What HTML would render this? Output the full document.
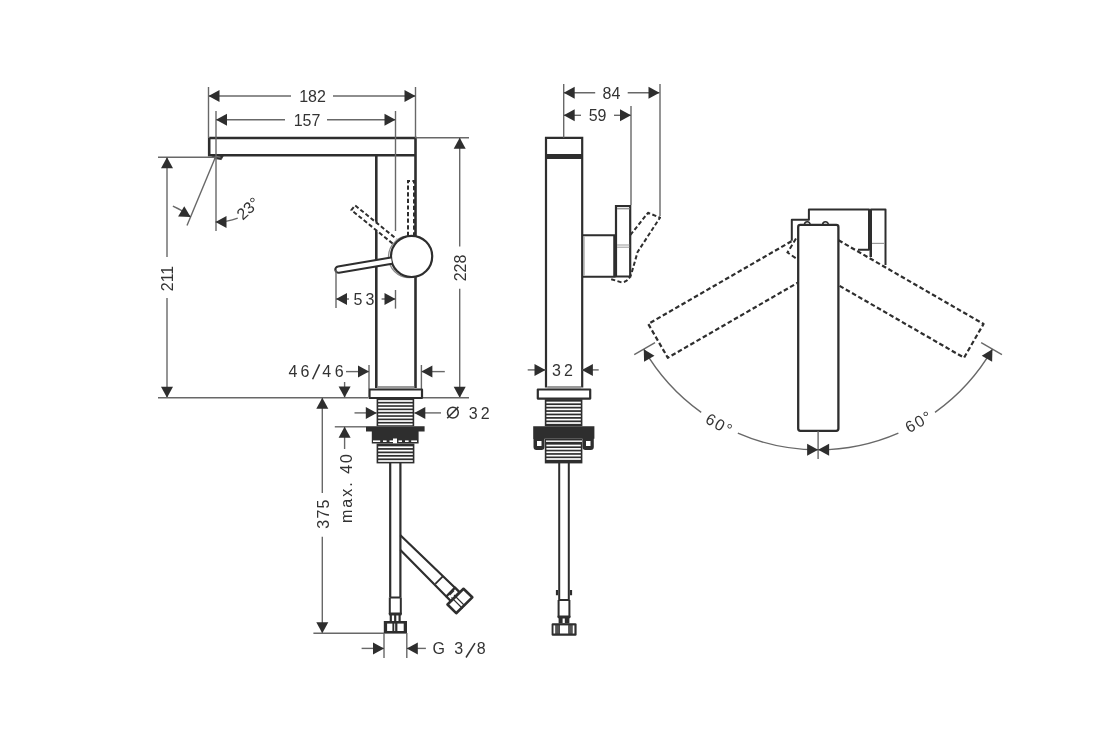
<!DOCTYPE html>
<html><head><meta charset="utf-8"><style>
html,body{margin:0;padding:0;background:#fff;width:1120px;height:750px;overflow:hidden}
svg{display:block;will-change:transform}
text{font-family:"Liberation Sans",sans-serif}
</style></head><body>
<svg width="1120" height="750" viewBox="0 0 1120 750">
<rect width="1120" height="750" fill="#fff"/>
<path d="M209.2,138 H415.5 V388 M209.2,138 V155.3 H415.5 M376.3,155.3 V388" stroke="#2e2e2e" stroke-width="2.6" fill="none" />
<path d="M210.6,155 L223.2,156 L221.3,159.6 L214.7,158.6 Z" stroke="#2e2e2e" stroke-width="0.8" fill="#2e2e2e" />
<path d="M215.5,156.6 L220.5,157.2" stroke="#999" stroke-width="0.9" fill="none" />
<line x1="208.50" y1="87.00" x2="208.50" y2="138.00" stroke="#686868" stroke-width="1.4" />
<line x1="415.50" y1="87.00" x2="415.50" y2="138.00" stroke="#686868" stroke-width="1.4" />
<line x1="216.00" y1="111.00" x2="216.00" y2="231.00" stroke="#686868" stroke-width="1.4" />
<line x1="395.50" y1="111.00" x2="395.50" y2="231.00" stroke="#686868" stroke-width="1.4" />
<line x1="415.50" y1="137.80" x2="469.00" y2="137.80" stroke="#686868" stroke-width="1.4" />
<line x1="158.00" y1="157.20" x2="215.00" y2="157.20" stroke="#686868" stroke-width="1.4" />
<line x1="215.50" y1="157.00" x2="187.00" y2="225.60" stroke="#686868" stroke-width="1.4" />
<line x1="208.50" y1="96.00" x2="291.00" y2="96.00" stroke="#686868" stroke-width="1.4" />
<line x1="333.00" y1="96.00" x2="415.50" y2="96.00" stroke="#686868" stroke-width="1.4" />
<polygon points="208.50,96.00 219.50,90.00 219.50,102.00" fill="#2e2e2e"/>
<polygon points="415.50,96.00 404.50,102.00 404.50,90.00" fill="#2e2e2e"/>
<text x="312.50" y="96.50" font-size="16" text-anchor="middle" dominant-baseline="central" fill="#333333">182</text>
<line x1="216.00" y1="119.70" x2="285.00" y2="119.70" stroke="#686868" stroke-width="1.4" />
<line x1="327.00" y1="119.70" x2="395.50" y2="119.70" stroke="#686868" stroke-width="1.4" />
<polygon points="216.00,119.70 227.00,113.70 227.00,125.70" fill="#2e2e2e"/>
<polygon points="395.50,119.70 384.50,125.70 384.50,113.70" fill="#2e2e2e"/>
<text x="307.00" y="120.00" font-size="16" text-anchor="middle" dominant-baseline="central" fill="#333333">157</text>
<line x1="167.00" y1="157.20" x2="167.00" y2="257.00" stroke="#686868" stroke-width="1.4" />
<line x1="167.00" y1="298.00" x2="167.00" y2="397.70" stroke="#686868" stroke-width="1.4" />
<polygon points="167.00,157.20 173.00,168.20 161.00,168.20" fill="#2e2e2e"/>
<polygon points="167.00,397.70 161.00,386.70 173.00,386.70" fill="#2e2e2e"/>
<text x="167.50" y="278.50" font-size="16" text-anchor="middle" dominant-baseline="central" fill="#333333" transform="rotate(-90 167.50 278.50)">211</text>
<line x1="459.70" y1="137.80" x2="459.70" y2="246.50" stroke="#686868" stroke-width="1.4" />
<line x1="459.70" y1="288.70" x2="459.70" y2="397.70" stroke="#686868" stroke-width="1.4" />
<polygon points="459.70,137.80 465.70,148.80 453.70,148.80" fill="#2e2e2e"/>
<polygon points="459.70,397.70 453.70,386.70 465.70,386.70" fill="#2e2e2e"/>
<text x="460.20" y="268.00" font-size="16" text-anchor="middle" dominant-baseline="central" fill="#333333" transform="rotate(-90 460.20 268.00)">228</text>
<path d="M172.86,206.06 A65,65 0 0 1 190.63,217.05" stroke="#686868" stroke-width="1.4" fill="none"/>
<polygon points="190.63,217.05 178.11,216.56 184.26,206.26" fill="#2e2e2e"/>
<path d="M237.73,218.08 A65,65 0 0 1 215.50,222.00" stroke="#686868" stroke-width="1.4" fill="none"/>
<polygon points="215.50,222.00 226.50,216.00 226.50,228.00" fill="#2e2e2e"/>
<text x="248.00" y="208.50" font-size="16" text-anchor="middle" dominant-baseline="central" fill="#333333" transform="rotate(-42 248.00 208.50)">23°</text>
<circle cx="409.3" cy="256.8" r="20.8" stroke="#8a8a8a" stroke-width="1.3" fill="#fff"/>
<circle cx="411.6" cy="256.4" r="20.6" stroke="#2e2e2e" stroke-width="2.2" fill="#fff"/>
<path d="M392.03,263.71 L339.03,272.71 A3.15,3.15 0 0 1 337.97,266.49 L390.97,257.49 Z" fill="#fff" stroke="none"/>
<path d="M392.03,263.71 L339.03,272.71 A3.15,3.15 0 0 1 337.97,266.49 L390.97,257.49" stroke="#2e2e2e" stroke-width="2.2" fill="none"  stroke-linejoin="round"/>
<path d="M392.61,243.53 L351.31,210.03 L355.09,205.37 L396.39,238.87 Z" fill="#fff" stroke="none"/>
<path d="M392.61,243.53 L351.31,210.03 L355.09,205.37 L396.39,238.87" stroke="#2e2e2e" stroke-width="2.0" fill="none" stroke-dasharray="4.2,2.4" stroke-linejoin="round"/>
<path d="M408,236 V181 H414 V236" stroke="#2e2e2e" stroke-width="2.0" fill="none" stroke-dasharray="4.2,2.4"/>
<line x1="336.00" y1="270.00" x2="336.00" y2="308.00" stroke="#686868" stroke-width="1.4" />
<line x1="395.50" y1="290.00" x2="395.50" y2="308.60" stroke="#686868" stroke-width="1.4" />
<line x1="336.00" y1="299.00" x2="349.00" y2="299.00" stroke="#686868" stroke-width="1.4" />
<line x1="381.60" y1="299.00" x2="395.50" y2="299.00" stroke="#686868" stroke-width="1.4" />
<polygon points="336.00,299.00 347.00,293.00 347.00,305.00" fill="#2e2e2e"/>
<polygon points="395.50,299.00 384.50,305.00 384.50,293.00" fill="#2e2e2e"/>
<text x="365.50" y="299.50" font-size="16" text-anchor="middle" dominant-baseline="central" fill="#333333" letter-spacing="3">53</text>
<line x1="369.00" y1="365.00" x2="369.00" y2="389.00" stroke="#686868" stroke-width="1.4" />
<line x1="421.40" y1="365.00" x2="421.40" y2="389.00" stroke="#686868" stroke-width="1.4" />
<line x1="346.00" y1="371.60" x2="369.00" y2="371.60" stroke="#686868" stroke-width="1.4" />
<line x1="421.40" y1="371.60" x2="444.80" y2="371.60" stroke="#686868" stroke-width="1.4" />
<polygon points="369.00,371.60 358.00,377.60 358.00,365.60" fill="#2e2e2e"/>
<polygon points="421.40,371.60 432.40,365.60 432.40,377.60" fill="#2e2e2e"/>
<text x="293.00" y="371.50" font-size="16" text-anchor="middle" dominant-baseline="central" fill="#333333">4</text>
<text x="305.00" y="371.50" font-size="16" text-anchor="middle" dominant-baseline="central" fill="#333333">6</text>
<text x="326.80" y="371.50" font-size="16" text-anchor="middle" dominant-baseline="central" fill="#333333">4</text>
<text x="339.20" y="371.50" font-size="16" text-anchor="middle" dominant-baseline="central" fill="#333333">6</text>
<line x1="312.60" y1="379.20" x2="319.60" y2="364.40" stroke="#333333" stroke-width="1.5" />
<line x1="158.00" y1="397.70" x2="368.00" y2="397.70" stroke="#686868" stroke-width="1.4" />
<line x1="423.00" y1="397.70" x2="469.00" y2="397.70" stroke="#686868" stroke-width="1.4" />
<line x1="344.60" y1="382.00" x2="344.60" y2="397.70" stroke="#686868" stroke-width="1.4" />
<polygon points="344.60,397.60 338.60,386.60 350.60,386.60" fill="#2e2e2e"/>
<rect x="377.6" y="386" width="36.6" height="2.4" fill="#9a9a9a"/>
<path d="M369.5,389.5 H422 V398 H369.5 Z" stroke="#2e2e2e" stroke-width="2.2" fill="none" stroke-linejoin="round"/>
<rect x="376.6" y="399" width="37.599999999999966" height="27.19999999999999" fill="#2e2e2e"/>
<rect x="378.20000000000005" y="400.15" width="34.39999999999996" height="1.7" fill="#fff"/>
<rect x="378.20000000000005" y="403.49" width="34.39999999999996" height="1.7" fill="#fff"/>
<rect x="378.20000000000005" y="406.83" width="34.39999999999996" height="1.7" fill="#fff"/>
<rect x="378.20000000000005" y="410.17" width="34.39999999999996" height="1.7" fill="#fff"/>
<rect x="378.20000000000005" y="413.51" width="34.39999999999996" height="1.7" fill="#fff"/>
<rect x="378.20000000000005" y="416.85" width="34.39999999999996" height="1.7" fill="#fff"/>
<rect x="378.20000000000005" y="420.19" width="34.39999999999996" height="1.7" fill="#fff"/>
<rect x="378.20000000000005" y="423.53" width="34.39999999999996" height="1.7" fill="#fff"/>
<path d="M366,426.2 H424.6 V431.6 H418.6 V443.6 H371.8 V431.6 H366 Z" stroke="#2e2e2e" stroke-width="0" fill="#2e2e2e" />
<rect x="373" y="440.4" width="7.2" height="1.6" fill="#fff"/>
<rect x="383" y="440.4" width="3.6" height="1.6" fill="#fff"/>
<rect x="389.5" y="440.4" width="4.0" height="1.6" fill="#fff"/>
<rect x="398.5" y="440.4" width="3.5" height="1.6" fill="#fff"/>
<rect x="405" y="440.4" width="3.6" height="1.6" fill="#fff"/>
<rect x="411.2" y="440.4" width="5.8" height="1.6" fill="#fff"/>
<rect x="393" y="438.5" width="4" height="5" fill="#fff"/>
<rect x="376.6" y="443.6" width="37.799999999999955" height="19.799999999999955" fill="#2e2e2e"/>
<rect x="378.20000000000005" y="446.35" width="34.59999999999995" height="1.7" fill="#fff"/>
<rect x="378.20000000000005" y="449.80" width="34.59999999999995" height="1.7" fill="#fff"/>
<rect x="378.20000000000005" y="453.25" width="34.59999999999995" height="1.7" fill="#fff"/>
<rect x="378.20000000000005" y="456.70" width="34.59999999999995" height="1.7" fill="#fff"/>
<rect x="378.20000000000005" y="460.15" width="34.59999999999995" height="1.7" fill="#fff"/>
<line x1="334.80" y1="426.80" x2="366.00" y2="426.80" stroke="#686868" stroke-width="1.4" />
<line x1="344.60" y1="426.80" x2="344.60" y2="449.00" stroke="#686868" stroke-width="1.4" />
<polygon points="344.60,426.80 350.60,437.80 338.60,437.80" fill="#2e2e2e"/>
<text x="346.00" y="487.50" font-size="16" text-anchor="middle" dominant-baseline="central" fill="#333333" letter-spacing="2" transform="rotate(-90 346.00 487.50)">max. 40</text>
<line x1="322.30" y1="397.70" x2="322.30" y2="493.00" stroke="#686868" stroke-width="1.4" />
<line x1="322.30" y1="536.80" x2="322.30" y2="633.20" stroke="#686868" stroke-width="1.4" />
<polygon points="322.30,397.70 328.30,408.70 316.30,408.70" fill="#2e2e2e"/>
<polygon points="322.30,633.20 316.30,622.20 328.30,622.20" fill="#2e2e2e"/>
<text x="323.30" y="513.50" font-size="16" text-anchor="middle" dominant-baseline="central" fill="#333333" letter-spacing="1.2" transform="rotate(-90 323.30 513.50)">375</text>
<line x1="313.40" y1="633.20" x2="384.00" y2="633.20" stroke="#686868" stroke-width="1.4" />
<line x1="354.50" y1="412.90" x2="376.80" y2="412.90" stroke="#686868" stroke-width="1.4" />
<line x1="414.30" y1="412.90" x2="441.00" y2="412.90" stroke="#686868" stroke-width="1.4" />
<polygon points="376.80,412.90 365.80,418.90 365.80,406.90" fill="#2e2e2e"/>
<polygon points="414.30,412.90 425.30,406.90 425.30,418.90" fill="#2e2e2e"/>
<circle cx="452.9" cy="412.6" r="5.4" stroke="#333333" stroke-width="1.5" fill="none"/>
<line x1="447.20" y1="418.30" x2="458.40" y2="406.90" stroke="#333333" stroke-width="1.5" />
<text x="468.80" y="413.20" font-size="16" text-anchor="start" dominant-baseline="central" fill="#333333" letter-spacing="3">32</text>
<path d="M390.2,463 V597.5 M400.4,463 V597.5" stroke="#2e2e2e" stroke-width="2.2" fill="none" />
<path d="M400.4,535.3 L455,587.7 M400.4,550 L446.3,596.5" stroke="#2e2e2e" stroke-width="2.2" fill="none" />
<path d="M390.2,597.5 H400.4 M389.8,597.5 V614 M400.8,597.5 V614" stroke="#2e2e2e" stroke-width="2.0" fill="none" />
<rect x="388.8" y="612.6" width="13" height="2.8" rx="1" fill="#2e2e2e"/>
<rect x="389.7" y="614.5" width="11" height="7" fill="#2e2e2e"/>
<rect x="391.9" y="615.5" width="2.2" height="5.5" fill="#fff"/><rect x="396.3" y="615.5" width="2.2" height="5.5" fill="#fff"/>
<rect x="383.8" y="621" width="23.2" height="12.6" fill="#2e2e2e"/>
<rect x="387.1" y="623.6" width="5.3" height="7.4" fill="#fff"/><rect x="397.4" y="623.6" width="6.3" height="7.4" fill="#fff"/><rect x="394.1" y="623.6" width="1.1" height="7.4" fill="#ddd"/>
<path d="M435.3,583.8 L442.8,576.3" stroke="#2e2e2e" stroke-width="1.8" fill="none" />
<path d="M447.5,604.5 L463.5,588.8 L472.3,597.3 L456.2,613.2 Z" stroke="#2e2e2e" stroke-width="2.6" fill="none" stroke-linejoin="round"/>
<path d="M446.3,596.5 L455,587.7 L459.5,592.2 L450.8,601 Z" stroke="#2e2e2e" stroke-width="2.4" fill="#fff" stroke-linejoin="round"/>
<path d="M449.5,595 L454,590.5" stroke="#2e2e2e" stroke-width="1.4" fill="none" />
<path d="M451.5,597.5 L462.5,608.5 M454,595 L465,606" stroke="#2e2e2e" stroke-width="1.1" fill="none" />
<line x1="384.00" y1="633.00" x2="384.00" y2="658.00" stroke="#686868" stroke-width="1.4" />
<line x1="406.80" y1="633.00" x2="406.80" y2="658.00" stroke="#686868" stroke-width="1.4" />
<line x1="361.60" y1="648.40" x2="384.00" y2="648.40" stroke="#686868" stroke-width="1.4" />
<line x1="406.80" y1="648.40" x2="425.90" y2="648.40" stroke="#686868" stroke-width="1.4" />
<polygon points="384.00,648.40 373.00,654.40 373.00,642.40" fill="#2e2e2e"/>
<polygon points="406.80,648.40 417.80,642.40 417.80,654.40" fill="#2e2e2e"/>
<text x="438.80" y="648.80" font-size="16" text-anchor="middle" dominant-baseline="central" fill="#333333">G</text>
<text x="458.80" y="648.80" font-size="16" text-anchor="middle" dominant-baseline="central" fill="#333333">3</text>
<text x="481.30" y="648.80" font-size="16" text-anchor="middle" dominant-baseline="central" fill="#333333">8</text>
<line x1="466.00" y1="657.50" x2="475.00" y2="643.10" stroke="#333333" stroke-width="1.5" />
<path d="M546,387.6 V137.8 H582.2 V387.6" stroke="#2e2e2e" stroke-width="2.2" fill="none" />
<rect x="546" y="154" width="36.2" height="5" fill="#2e2e2e"/>
<path d="M582.2,235.2 H614.4 V276.8 H582.2" stroke="#2e2e2e" stroke-width="2.0" fill="none" />
<path d="M616,206 H630.2 V276.5 H616 Z" stroke="#2e2e2e" stroke-width="2.2" fill="none" />
<rect x="613.6" y="235.2" width="3.4" height="41.3" fill="#2e2e2e"/>
<line x1="617.00" y1="208.60" x2="629.50" y2="208.60" stroke="#999" stroke-width="1.6" />
<line x1="617.00" y1="245.00" x2="629.50" y2="245.00" stroke="#999" stroke-width="1" />
<line x1="617.00" y1="247.20" x2="629.50" y2="247.20" stroke="#999" stroke-width="1" />
<line x1="584.00" y1="236.50" x2="584.00" y2="275.50" stroke="#999" stroke-width="1.2" />
<path d="M630.4,235 L648,212.8 L660,217.6 L637.6,252 L631.2,274.4 Q628,282 621.6,282.4 L611.2,279.2" stroke="#2e2e2e" stroke-width="2.0" fill="none" stroke-dasharray="4.2,2.4" stroke-linejoin="round"/>
<line x1="563.70" y1="84.00" x2="563.70" y2="137.80" stroke="#686868" stroke-width="1.4" />
<line x1="631.00" y1="106.00" x2="631.00" y2="205.00" stroke="#686868" stroke-width="1.4" />
<line x1="660.00" y1="84.00" x2="660.00" y2="216.00" stroke="#686868" stroke-width="1.4" />
<line x1="563.70" y1="92.80" x2="595.20" y2="92.80" stroke="#686868" stroke-width="1.4" />
<line x1="627.70" y1="92.80" x2="659.50" y2="92.80" stroke="#686868" stroke-width="1.4" />
<polygon points="563.70,92.80 574.70,86.80 574.70,98.80" fill="#2e2e2e"/>
<polygon points="659.50,92.80 648.50,98.80 648.50,86.80" fill="#2e2e2e"/>
<text x="611.50" y="93.20" font-size="16" text-anchor="middle" dominant-baseline="central" fill="#333333">84</text>
<line x1="563.70" y1="115.30" x2="581.00" y2="115.30" stroke="#686868" stroke-width="1.4" />
<line x1="614.00" y1="115.30" x2="631.00" y2="115.30" stroke="#686868" stroke-width="1.4" />
<polygon points="563.70,115.30 574.70,109.30 574.70,121.30" fill="#2e2e2e"/>
<polygon points="631.00,115.30 620.00,121.30 620.00,109.30" fill="#2e2e2e"/>
<text x="597.60" y="115.70" font-size="16" text-anchor="middle" dominant-baseline="central" fill="#333333">59</text>
<line x1="527.70" y1="369.90" x2="545.50" y2="369.90" stroke="#686868" stroke-width="1.4" />
<line x1="581.90" y1="369.90" x2="598.70" y2="369.90" stroke="#686868" stroke-width="1.4" />
<polygon points="545.50,369.90 534.50,375.90 534.50,363.90" fill="#2e2e2e"/>
<polygon points="581.90,369.90 592.90,363.90 592.90,375.90" fill="#2e2e2e"/>
<text x="564.00" y="370.30" font-size="16" text-anchor="middle" dominant-baseline="central" fill="#333333" letter-spacing="3">32</text>
<rect x="547.2" y="386" width="33.8" height="2.4" fill="#9a9a9a"/>
<path d="M537.8,389.5 H590.2 V398.6 H537.8 Z" stroke="#2e2e2e" stroke-width="2.2" fill="none" stroke-linejoin="round"/>
<rect x="544.8" y="399.2" width="37.60000000000002" height="27.0" fill="#2e2e2e"/>
<rect x="546.4" y="401.65" width="34.40000000000002" height="1.7" fill="#fff"/>
<rect x="546.4" y="405.07" width="34.40000000000002" height="1.7" fill="#fff"/>
<rect x="546.4" y="408.49" width="34.40000000000002" height="1.7" fill="#fff"/>
<rect x="546.4" y="411.91" width="34.40000000000002" height="1.7" fill="#fff"/>
<rect x="546.4" y="415.33" width="34.40000000000002" height="1.7" fill="#fff"/>
<rect x="546.4" y="418.75" width="34.40000000000002" height="1.7" fill="#fff"/>
<rect x="546.4" y="422.17" width="34.40000000000002" height="1.7" fill="#fff"/>
<path d="M533.2,426.2 H594.4 V438.8 H533.2 Z" stroke="#2e2e2e" stroke-width="0" fill="#2e2e2e" />
<path d="M533.5,438 H544.5 V447 Q544.5,450 541.5,450 H536.5 Q533.5,450 533.5,447 Z M582.5,438 H593.8 V447 Q593.8,450 590.8,450 H585.5 Q582.5,450 582.5,447 Z" stroke="#2e2e2e" stroke-width="0" fill="#2e2e2e" />
<rect x="537" y="441" width="4.5" height="5" fill="#fff"/>
<rect x="586" y="441" width="4.5" height="5" fill="#fff"/>
<rect x="544.8" y="438.8" width="37.60000000000002" height="24.599999999999966" fill="#2e2e2e"/>
<rect x="546.4" y="444.65" width="34.40000000000002" height="1.7" fill="#fff"/>
<rect x="546.4" y="448.03" width="34.40000000000002" height="1.7" fill="#fff"/>
<rect x="546.4" y="451.40" width="34.40000000000002" height="1.7" fill="#fff"/>
<rect x="546.4" y="454.78" width="34.40000000000002" height="1.7" fill="#fff"/>
<rect x="546.4" y="458.15" width="34.40000000000002" height="1.7" fill="#fff"/>
<rect x="546" y="440.5" width="36" height="1.4" fill="#fff"/>
<path d="M559.2,463 V600 M568.8,463 V600" stroke="#2e2e2e" stroke-width="2.0" fill="none" />
<path d="M557,590.1 V595.3 M571,590.1 V595.3" stroke="#2e2e2e" stroke-width="2.2" fill="none" />
<path d="M559.2,600 H568.8 M558.6,600 V617 M569.4,600 V617" stroke="#2e2e2e" stroke-width="2.0" fill="none" />
<rect x="557.5" y="615.6" width="13" height="2.6" rx="1" fill="#2e2e2e"/>
<rect x="558.6" y="617.5" width="10.8" height="6" fill="#2e2e2e"/>
<rect x="562.6" y="618.5" width="2.2" height="4.5" fill="#fff"/>
<rect x="551.6" y="623.2" width="25" height="12.5" rx="1.2" fill="#2e2e2e"/>
<rect x="553.5" y="625.4" width="1.8" height="8.1" fill="#fff"/><rect x="560" y="625.4" width="8.3" height="8.1" fill="#fff"/><rect x="572.6" y="625.4" width="1.8" height="8.1" fill="#fff"/>
<rect x="556" y="625.4" width="3.7" height="8.1" fill="#555"/><rect x="568.5" y="625.4" width="3.7" height="8.1" fill="#555"/>
<path d="M791.50,241.27 L648.27,323.96 L667.77,357.74 L798.20,282.44" stroke="#2e2e2e" stroke-width="2.2" fill="none" stroke-dasharray="4.6,2.6" stroke-linejoin="round"/>
<path d="M838.50,240.23 L983.53,323.96 L964.03,357.74 L838.50,285.26" stroke="#2e2e2e" stroke-width="2.2" fill="none" stroke-dasharray="4.6,2.6" stroke-linejoin="round"/>
<path d="M791.8,240.7 V219.8 H808.9 V209.6 H869 V249.8 H858" stroke="#2e2e2e" stroke-width="2.0" fill="none" stroke-linejoin="round"/>
<path d="M871,257 V209.6 H885.5 V265" stroke="#2e2e2e" stroke-width="2.0" fill="none" stroke-linejoin="round"/>
<rect x="869.5" y="211" width="2.5" height="46" fill="#2e2e2e"/>
<line x1="872.00" y1="243.40" x2="884.50" y2="243.40" stroke="#999" stroke-width="1.2" />
<path d="M796,238.6 L787.5,252.5 L797.7,259.5" stroke="#2e2e2e" stroke-width="2.0" fill="none" stroke-dasharray="4.6,2.6"/>
<path d="M798.2,428.6 V227 Q798.2,224.9 800.3,224.9 H836.3 Q838.4,224.9 838.4,227 V428.6 Q838.4,430.8 836.3,430.8 H800.3 Q798.2,430.8 798.2,428.6 Z" stroke="#2e2e2e" stroke-width="2.3" fill="#fff" />
<line x1="818.10" y1="431.00" x2="818.10" y2="459.00" stroke="#686868" stroke-width="1.4" />
<path d="M804.5,224.5 A2.8,2.8 0 0 1 810.1,224.5 M822.7,224.5 A2.8,2.8 0 0 1 828.3,224.5" stroke="#2e2e2e" stroke-width="1.6" fill="none" />
<line x1="658.02" y1="340.85" x2="658.02" y2="340.85" stroke="#686868" stroke-width="0" />
<line x1="973.78" y1="340.85" x2="973.78" y2="340.85" stroke="#686868" stroke-width="0" />
<line x1="655.03" y1="342.65" x2="634.24" y2="354.65" stroke="#686868" stroke-width="1.4" />
<line x1="981.17" y1="342.65" x2="1001.96" y2="354.65" stroke="#686868" stroke-width="1.4" />
<path d="M643.77,349.15 A201.3,201.3 0 0 0 701.20,412.38" stroke="#686868" stroke-width="1.4" fill="none"/>
<path d="M737.83,433.10 A201.3,201.3 0 0 0 818.10,449.80" stroke="#686868" stroke-width="1.4" fill="none"/>
<path d="M818.10,449.80 A201.3,201.3 0 0 0 898.37,433.10" stroke="#686868" stroke-width="1.4" fill="none"/>
<path d="M935.00,412.38 A201.3,201.3 0 0 0 992.43,349.15" stroke="#686868" stroke-width="1.4" fill="none"/>
<polygon points="643.77,349.15 654.47,355.68 644.07,361.68" fill="#2e2e2e"/>
<polygon points="992.43,349.15 992.13,361.68 981.73,355.68" fill="#2e2e2e"/>
<polygon points="818.10,449.80 807.10,455.80 807.10,443.80" fill="#2e2e2e"/>
<polygon points="818.10,449.80 829.10,443.80 829.10,455.80" fill="#2e2e2e"/>
<text x="719.50" y="424.50" font-size="16" text-anchor="middle" dominant-baseline="central" fill="#333333" letter-spacing="1.5" transform="rotate(29 719.50 424.50)">60°</text>
<text x="919.00" y="421.50" font-size="16" text-anchor="middle" dominant-baseline="central" fill="#333333" letter-spacing="1.5" transform="rotate(-29 919.00 421.50)">60°</text>
</svg>
</body></html>
